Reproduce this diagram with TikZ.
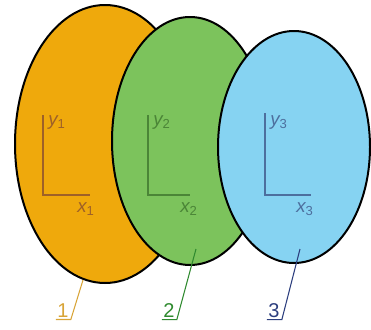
\documentclass[tikz,border=0pt]{standalone}
\usepackage{fontspec}
\setmainfont{Liberation Sans}
\usepackage{tikz}
\usetikzlibrary{positioning}
\definecolor{corange}{HTML}{EFA90C}
\definecolor{cgreen}{HTML}{7CC35C}
\definecolor{cblue}{HTML}{86D3F2}
\definecolor{aorange}{HTML}{9E6128}
\definecolor{agreen}{HTML}{4B8537}
\definecolor{ablue}{HTML}{4D6F9E}
\definecolor{lorange}{HTML}{D8A437}
\definecolor{lgreen}{HTML}{2F8A2F}
\definecolor{lblue}{HTML}{2C3E7E}
\newcommand{\axl}[2]{{\itshape #1}\textsubscript{#2}}
\begin{document}
\begin{tikzpicture}[
    x=0.75pt, y=-0.75pt,
    disc/.style={draw=black, line width=1.5pt},
    axes/.style={line width=0.9pt},
    axlabel/.style={font=\fontsize{14}{16}\selectfont, inner sep=1pt},
    num/.style={font=\fontsize{15}{17}\selectfont, inner sep=1pt},
    leader/.style={line width=0.8pt},
]
\useasboundingbox (0,0) rectangle (371,329);
% frames 1, 2, 3
\filldraw[disc, fill=corange] (105,144) ellipse [x radius=90, y radius=139];
\filldraw[disc, fill=cgreen]  (190,141) ellipse [x radius=78, y radius=124];
\filldraw[disc, fill=cblue]   (294,147) ellipse [x radius=76, y radius=116];
% axes
\draw[axes, aorange] (43,115) |- (90,195);
\node[axlabel, text=aorange] (y1) at (57,123) {\axl{y}{1}};
\node[axlabel, text=aorange] (x1) at (86,209) {\axl{x}{1}};
\draw[axes, agreen] (148,115) |- (190,195);
\node[axlabel, text=agreen] (y2) at (162,123) {\axl{y}{2}};
\node[axlabel, text=agreen] (x2) at (189,209) {\axl{x}{2}};
\draw[axes, ablue] (265,113) |- (311,195);
\node[axlabel, text=ablue] (y3) at (279,123) {\axl{y}{3}};
\node[axlabel, text=ablue] (x3) at (305,209) {\axl{x}{3}};
% leaders
\coordinate (p1) at (83,280);
\coordinate (p2) at (196,249);
\coordinate (p3) at (300,249);
\node[num, text=lorange] (n1) at (63,311) {1};
\node[num, text=lgreen]  (n2) at (169,311) {2};
\node[num, text=lblue]   (n3) at (274,311) {3};
\draw[leader, lorange] (n1.south west) -- ++(15,0) coordinate (e1) -- (p1);
\draw[leader, lgreen]  (n2.south west) -- ++(15,0) coordinate (e2) -- (p2);
\draw[leader, lblue]   (n3.south west) -- ++(15,0) coordinate (e3) -- (p3);
\end{tikzpicture}
\end{document}
